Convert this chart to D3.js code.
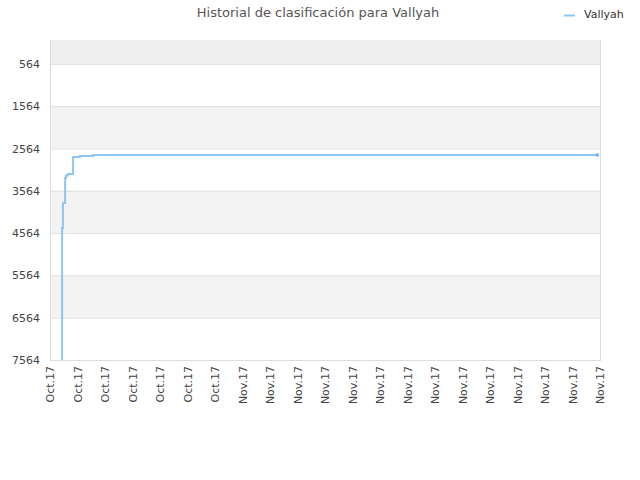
<!DOCTYPE html>
<html>
<head>
<meta charset="utf-8">
<script src="https://cdn.jsdelivr.net/npm/d3@7"></script>
<style>
  body { margin: 0; background: #fff; }
  text { font-family: "DejaVu Sans", sans-serif; }
</style>
</head>
<body>
<svg id="chart" width="640" height="480"></svg>
<script>
// tick labels along the x axis (one per tick, index = position)
var xLabels = ['Oct.17','Oct.17','Oct.17','Oct.17','Oct.17','Oct.17','Oct.17',
  'Nov.17','Nov.17','Nov.17','Nov.17','Nov.17','Nov.17','Nov.17',
  'Nov.17','Nov.17','Nov.17','Nov.17','Nov.17','Nov.17','Nov.17']
var yTicks = [564, 1564, 2564, 3564, 4564, 5564, 6564, 7564]

// ranking history, x measured in tick units
var days  = [0.44, 0.44, 0.47, 0.55, 0.58, 0.65, 0.84, 1.09, 1.56, 19.9]
var ranks = [7564, 4444, 3853, 3262, 3200, 3167, 2766, 2742, 2718, 2718]

var svg = d3.select('#chart')
var m = { left: 50, right: 600, top: 40, bottom: 360 }

var x = d3.scaleLinear().domain([0, xLabels.length - 1]).range([m.left, m.right])
var y = d3.scaleLinear().domain([0, 7564]).range([m.top, m.bottom])

// alternating bands between gridlines
var bandEdges = [0].concat(yTicks)
var bands = d3.pairs(bandEdges)
svg.append('g').selectAll('rect').data(bands).enter().append('rect')
  .attr('x', m.left).attr('width', m.right - m.left)
  .attr('y', function (d) { return y(d[0]) })
  .attr('height', function (d) { return y(d[1]) - y(d[0]) })
  .attr('fill', function (d, i) { return i === 0 ? '#eeeeee' : (i % 2 === 0 ? '#f3f3f3' : '#ffffff') })

// horizontal gridlines
svg.append('g').selectAll('line').data(yTicks).enter().append('line')
  .attr('x1', m.left).attr('x2', m.right)
  .attr('y1', function (d) { return y(d) + 0.5 }).attr('y2', function (d) { return y(d) + 0.5 })
  .attr('stroke', '#e0e0e0')

// frame left / right / bottom
svg.append('line').attr('x1', m.left + 0.5).attr('x2', m.left + 0.5)
  .attr('y1', m.top).attr('y2', m.bottom + 1).attr('stroke', '#dddddd')
svg.append('line').attr('x1', m.right + 0.5).attr('x2', m.right + 0.5)
  .attr('y1', m.top).attr('y2', m.bottom + 1).attr('stroke', '#dddddd')
svg.append('line').attr('x1', m.left).attr('x2', m.right + 1)
  .attr('y1', m.bottom + 0.5).attr('y2', m.bottom + 0.5).attr('stroke', '#dddddd')

// y labels
var yAxis = d3.axisLeft(y).tickValues(yTicks).tickFormat(d3.format('d')).tickSize(0).tickPadding(10)
var gy = svg.append('g').attr('transform', 'translate(' + m.left + ',0)').call(yAxis)
gy.select('.domain').remove()
gy.selectAll('text').attr('fill', '#444').style('font-size', '11px')
  .style('font-family', '"DejaVu Sans", sans-serif')

// x labels, rotated
var xAxis = d3.axisBottom(x).tickValues(d3.range(xLabels.length))
  .tickFormat(function (i) { return xLabels[i] }).tickSize(0)
var gx = svg.append('g').attr('transform', 'translate(0,' + m.bottom + ')').call(xAxis)
gx.select('.domain').remove()
gx.selectAll('text').attr('fill', '#444').style('font-size', '11px')
  .style('font-family', '"DejaVu Sans", sans-serif')
  .attr('text-anchor', 'end').attr('dy', '0.35em')
  .attr('transform', 'translate(0,6) rotate(-90)').attr('x', 0).attr('y', 0)

// the ranking line
var pts = d3.zip(days, ranks)
var line = d3.line().x(function (d) { return x(d[0]) }).y(function (d) { return y(d[1]) })
  .curve(d3.curveStepAfter)
svg.append('path').datum(pts).attr('d', line)
  .attr('fill', 'none').attr('stroke', '#8ec5f5').attr('stroke-width', 2)

var last = pts[pts.length - 1]
svg.append('rect').attr('x', x(last[0]) - 1.5).attr('y', y(last[1]) - 1.5)
  .attr('width', 3).attr('height', 3).attr('fill', '#6aaef0')

// title
svg.append('text').attr('x', 318).attr('y', 17).attr('text-anchor', 'middle')
  .style('font-size', '13px').attr('fill', '#555').text('Historial de clasificación para Vallyah')

// legend
svg.append('line').attr('x1', 564).attr('x2', 575).attr('y1', 15.5).attr('y2', 15.5)
  .attr('stroke', '#8ec5f5').attr('stroke-width', 2)
svg.append('text').attr('x', 584).attr('y', 18).style('font-size', '11px')
  .attr('fill', '#333').text('Vallyah')
</script>
</body>
</html>
